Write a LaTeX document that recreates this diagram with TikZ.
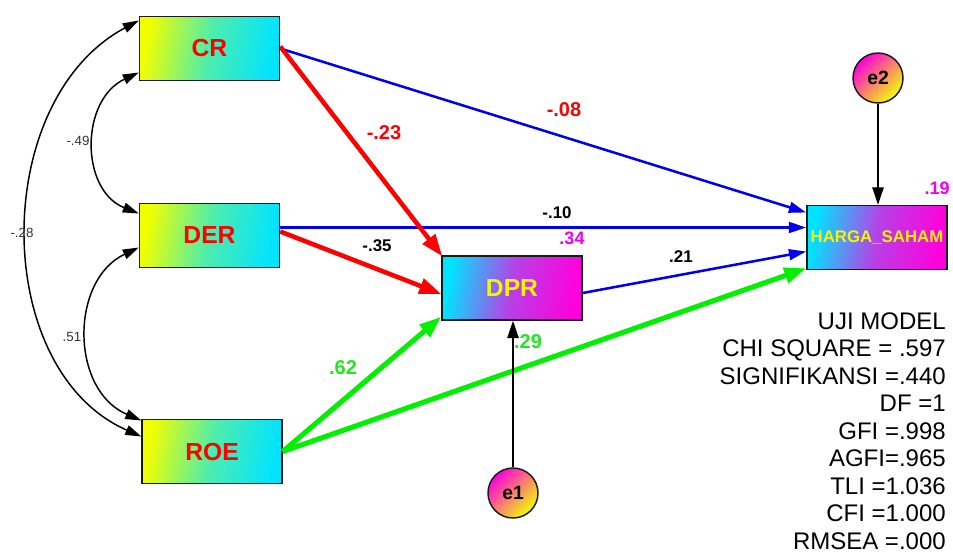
\documentclass[tikz,border=0pt]{standalone}
\usepackage{fontspec}
\setmainfont{Liberation Sans}
\usetikzlibrary{arrows.meta,calc}
\definecolor{gyel}{HTML}{F2FF00}
\definecolor{gcya}{HTML}{00E4FF}
\definecolor{gmag}{HTML}{FF00DC}
\definecolor{lblue}{HTML}{0000F0}
\definecolor{lred}{HTML}{FF0000}
\definecolor{lgreen}{HTML}{00F000}
\definecolor{tgreen}{HTML}{22E622}
\definecolor{tmag}{HTML}{F000F0}
\definecolor{tyel}{HTML}{F5F500}
\definecolor{eborder}{HTML}{1A1A1A}
\definecolor{covtext}{HTML}{333333}
\begin{document}
\begin{tikzpicture}[x=0.75pt,y=-0.75pt,
  varbox/.style={draw=eborder, line width=1.1pt, minimum width=105pt, minimum height=48pt, inner sep=0pt},
  exo/.style={varbox, left color=gyel, right color=gcya, middle color=gyel!32!gcya, shading angle=80, text=lred, font=\fontsize{18.5}{18.5}\selectfont\bfseries},
  endo/.style={varbox, left color=gcya, right color=gmag, middle color=gcya!28!gmag, shading angle=80, text=tyel},
  errc/.style={circle, draw=eborder, line width=1.1pt, minimum size=37.5pt, inner sep=0pt, left color=gmag, right color=gyel, shading angle=45, font=\fontsize{14.5}{14.5}\selectfont\bfseries},
  blu/.style={draw=lblue, line width=1.9pt, -{Triangle[length=13pt,width=8pt]}},
  rdd/.style={draw=lred, line width=3.4pt, -{Triangle[length=16.5pt,width=11.5pt]}},
  grn/.style={draw=lgreen, line width=3.8pt, -{Triangle[length=16.5pt,width=11.5pt]}},
  blk/.style={draw=black, line width=1.1pt, -{Triangle[length=13pt,width=8.5pt]}},
  cov/.style={draw=black, line width=1.1pt, {Triangle[length=12pt,width=7.5pt]}-{Triangle[length=12pt,width=7.5pt]}},
  elab/.style={font=\fontsize{12.7}{12.7}\selectfont\bfseries, inner sep=0pt},
  blab/.style={font=\fontsize{15}{15}\selectfont\bfseries, inner sep=0pt},
  rlab/.style={font=\fontsize{13.5}{13.5}\selectfont\bfseries, inner sep=0pt, text=tmag},
  clab/.style={font=\fontsize{10}{10}\selectfont, text=covtext, inner sep=0pt},
  stat/.style={font=\fontsize{18}{18}\selectfont, anchor=base east, inner sep=0pt}
]
\useasboundingbox (0,0) rectangle (953,551);
\fill[white] (0,0) rectangle (953,551);

% variables
\node[exo] (cr) at (209.5,48.5) {CR};
\node[exo] (der) at (209.5,235.5) {DER};
\node[exo] (roe) at (212,451.5) {ROE};
\node[endo, font=\fontsize{18.5}{18.5}\selectfont\bfseries] (dpr) at (512,288) {DPR};
\node[endo, font=\fontsize{12.6}{12.6}\selectfont\bfseries] (hs) at (877,237.5) {HARGA\_SAHAM};
\node[errc] (e1) at (513,493) {e1};
\node[errc] (e2) at (878,78) {e2};

% paths
\draw[blu] (cr.east) -- ($(hs.west)+(0,-25)$);
\draw[blu] ($(der.east)+(0,-8)$) -- ($(hs.west)+(0,-10)$);
\draw[blu] ($(dpr.east)+(0,5)$) -- ($(hs.west)+(0,14)$);
\draw[rdd] ($(cr.east)+(0,-2)$) -- ($(dpr.north west)+(1,1)$);
\draw[rdd] ($(der.east)+(0,-4)$) -- ($(dpr.west)+(0,6)$);
\draw[grn] (roe.east) -- ($(dpr.south west)+(0,-4)$);
\draw[grn] (roe.east) -- ($(hs.south west)+(0,-2)$);
\draw[blk] (e1) -- (e1 |- dpr.south);
\draw[blk] (e2) -- (e2 |- hs.north);

% covariances
\draw[cov] ($(cr.west)+(0,24)$) .. controls (80,100) and (80,190) .. ($(der.west)+(0,-22)$);
\draw[cov] ($(der.west)+(0,12)$) .. controls (70,280) and (70,390) .. ($(roe.west)+(0,-31)$);
\draw[cov] ($(cr.west)+(0,-28)$) .. controls (-10,100) and (-10,370) .. ($(roe.west)+(0,-15)$);

% labels
\node[blab, text=lred] (l1) at (564,110) {-.08};
\node[elab, text=black] (l2) at (557,213) {-.10};
\node[elab, text=black] (l3) at (681,257) {.21};
\node[blab, text=lred] (l4) at (384,133) {-.23};
\node[elab, text=black] (l5) at (377,246) {-.35};
\node[blab, text=tgreen] (l6) at (343,368) {.62};
\node[blab, text=tgreen] (l7) at (528,342) {.29};
\node[rlab] (r1) at (572,238) {.34};
\node[rlab] (r2) at (937,188) {.19};
\node[clab] (c1) at (78,141) {-.49};
\node[clab] (c2) at (22,233) {-.28};
\node[clab] (c3) at (72,337) {.51};

% model fit
\foreach \t [count=\i from 0] in {UJI MODEL, CHI SQUARE = .597, SIGNIFIKANSI =.440, DF =1, GFI =.998, AGFI=.965, TLI =1.036, CFI =1.000, RMSEA =.000}
  \node[stat] (fit\i) at (946,{329+27.5*\i}) {\t};
\end{tikzpicture}
\end{document}
